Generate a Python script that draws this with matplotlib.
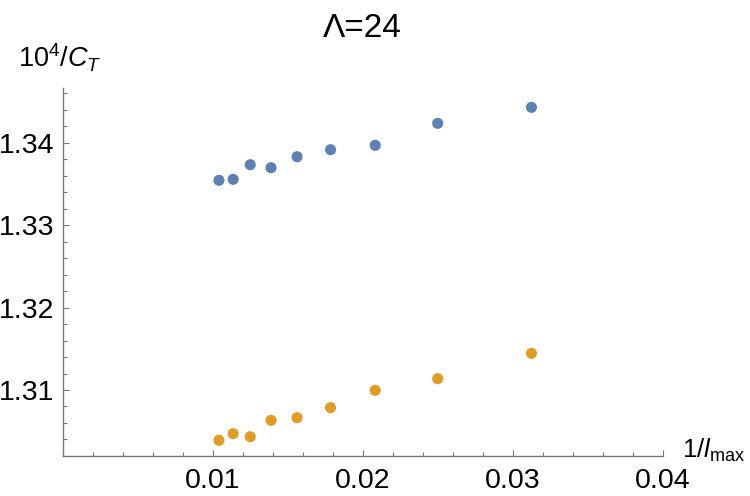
import numpy as np
import matplotlib
matplotlib.use('Agg')
import matplotlib.pyplot as plt
from matplotlib.ticker import MultipleLocator

plt.rcParams['font.family'] = ['Liberation Sans', 'DejaVu Sans']
plt.rcParams['mathtext.fontset'] = 'custom'
plt.rcParams['mathtext.rm'] = 'Liberation Sans'
plt.rcParams['mathtext.it'] = 'Liberation Sans:italic'

# l_max values (x axis is 1/l_max)
l_max = np.array([96, 88, 80, 72, 64, 56, 48, 40, 32])
x_vals = 1.0 / l_max

# 10^4/C_T values, two series
upper = [1.33544, 1.33556, 1.33733, 1.33697, 1.33830, 1.33915, 1.33968, 1.34235, 1.34429]
lower = [1.30390, 1.30470, 1.30433, 1.30632, 1.30664, 1.30785, 1.30996, 1.31137, 1.31445]

x_ticks = [0.01, 0.02, 0.03, 0.04]
y_ticks = [1.31, 1.32, 1.33, 1.34]

fig = plt.figure(figsize=(7.5, 4.96), dpi=100)
ax = fig.add_axes([0.0836, 0.0813, 0.8, 0.7413])

ax.scatter(x_vals, upper, s=64, color='#5E81B5', edgecolors='none', zorder=3)
ax.scatter(x_vals, lower, s=64, color='#E19C24', edgecolors='none', zorder=3)

ax.set_xlim(0, 0.04)
ax.set_ylim(1.30203, 1.34664)
ax.set_xticks(x_ticks)
ax.set_xticklabels(['0.01', '0.02', '0.03', '0.04'])
ax.set_yticks(y_ticks)
ax.set_yticklabels(['1.31', '1.32', '1.33', '1.34'])
ax.xaxis.set_minor_locator(MultipleLocator(0.002))
ax.yaxis.set_minor_locator(MultipleLocator(0.002))

for side in ['top', 'right']:
    ax.spines[side].set_visible(False)
for side in ['left', 'bottom']:
    ax.spines[side].set_color('#777777')
    ax.spines[side].set_linewidth(1.0)

ax.tick_params(which='both', direction='in', color='#777777', width=0.8)
ax.tick_params(which='major', length=4.5, labelsize=20.5)
ax.tick_params(axis='x', which='major', pad=9)
ax.tick_params(axis='y', which='major', pad=6)
ax.tick_params(which='minor', length=2.7)

ax.set_title('Λ=24', fontsize=24, pad=37)
fig.text(0.024, 0.863, r'$10^4/C_T$', fontsize=19.5, va='baseline', ha='left')
ax.annotate(r'$1/l_{\mathrm{max}}$', xy=(1, 0), xycoords='axes fraction',
            xytext=(14, 4), textcoords='offset points',
            fontsize=18.5, ha='left', va='center')

fig.savefig('out.png', dpi=100)
